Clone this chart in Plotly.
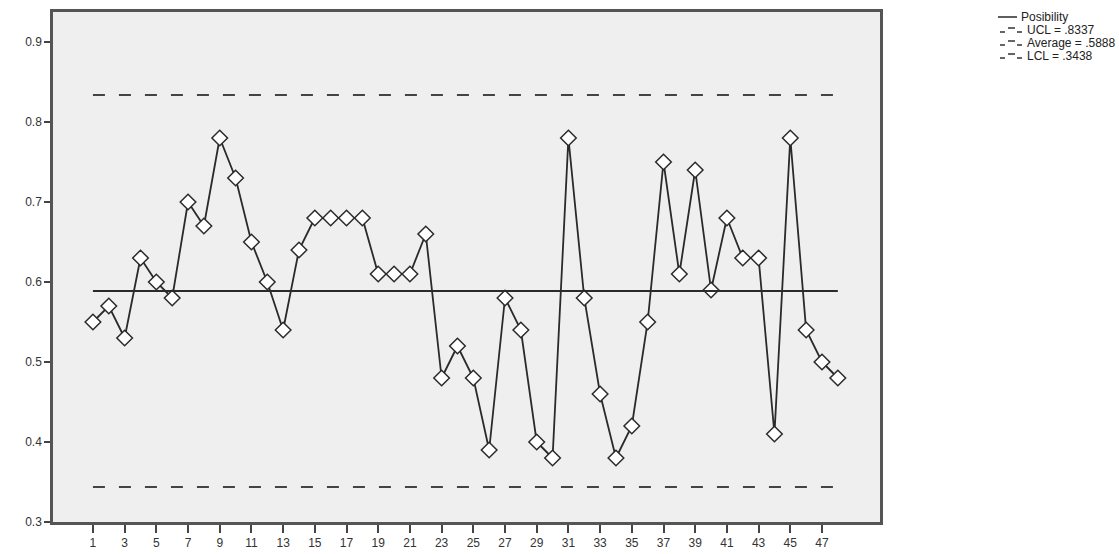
import plotly.graph_objects as go

samples = list(range(1, 49))
posibility = [0.55, 0.57, 0.53, 0.63, 0.60, 0.58, 0.70, 0.67, 0.78, 0.73,
              0.65, 0.60, 0.54, 0.64, 0.68, 0.68, 0.68, 0.68, 0.61, 0.61,
              0.61, 0.66, 0.48, 0.52, 0.48, 0.39, 0.58, 0.54, 0.40, 0.38,
              0.78, 0.58, 0.46, 0.38, 0.42, 0.55, 0.75, 0.61, 0.74, 0.59,
              0.68, 0.63, 0.63, 0.41, 0.78, 0.54, 0.50, 0.48]
ucl = 0.8337
average = 0.5888
lcl = 0.3438
x_ticks = list(range(1, 48, 2))
y_ticks = [0.3, 0.4, 0.5, 0.6, 0.7, 0.8, 0.9]
legend_labels = ["Posibility", "UCL = .8337", "Average = .5888", "LCL = .3438"]

line_col = "#2a2a2a"
dash_style = "12px,14px"
fig = go.Figure()
fig.add_trace(go.Scatter(
    x=samples, y=posibility, mode="lines+markers", name=legend_labels[0],
    line=dict(color=line_col, width=1.8),
    marker=dict(symbol="diamond", size=12, color="white",
                line=dict(color=line_col, width=1.5)),
))
fig.add_trace(go.Scatter(
    x=[samples[0], samples[-1]], y=[ucl, ucl], mode="lines",
    name=legend_labels[1], line=dict(color="#444", width=2, dash=dash_style),
))
fig.add_trace(go.Scatter(
    x=[samples[0], samples[-1]], y=[average, average], mode="lines",
    name=legend_labels[2], line=dict(color=line_col, width=2),
))
fig.add_trace(go.Scatter(
    x=[samples[0], samples[-1]], y=[lcl, lcl], mode="lines",
    name=legend_labels[3], line=dict(color="#444", width=2, dash=dash_style),
))

# Manual legend (SPSS style, tight rows) in paper coordinates
W, H = 1119, 554
plot_left, plot_right, plot_top, plot_bottom = 53, 880, 12, 522


def px(page_x):
    return (page_x - plot_left) / (plot_right - plot_left)


def py(page_y):
    return (plot_bottom - page_y) / (plot_bottom - plot_top)


rows_y = [17, 30, 43, 56]
text_x = [1019, 1025, 1025, 1025]
annotations = []
shapes = []
for i, (lab, ry, tx) in enumerate(zip(legend_labels, rows_y, text_x)):
    annotations.append(dict(
        x=px(tx), y=py(ry), xref="paper", yref="paper", text=lab,
        showarrow=False, xanchor="left", yanchor="middle",
        font=dict(size=12, color="#222", family="Liberation Sans, Arial, sans-serif"),
    ))
    if i == 0:
        shapes.append(dict(type="line", xref="paper", yref="paper",
                           x0=px(998), x1=px(1017), y0=py(ry), y1=py(ry),
                           line=dict(color=line_col, width=1.5)))
    else:
        # "-‾-" style symbol: short dash, raised dash, short dash
        shapes.append(dict(type="line", xref="paper", yref="paper",
                           x0=px(1000), x1=px(1005), y0=py(ry + 2), y1=py(ry + 2),
                           line=dict(color="#333", width=1.5)))
        shapes.append(dict(type="line", xref="paper", yref="paper",
                           x0=px(1008), x1=px(1015), y0=py(ry - 2), y1=py(ry - 2),
                           line=dict(color="#333", width=1.5)))
        shapes.append(dict(type="line", xref="paper", yref="paper",
                           x0=px(1017), x1=px(1022), y0=py(ry + 2), y1=py(ry + 2),
                           line=dict(color="#333", width=1.5)))

fig.update_layout(
    width=W, height=H,
    margin=dict(l=plot_left, r=W - plot_right, t=plot_top, b=H - plot_bottom,
                autoexpand=False),
    paper_bgcolor="white", plot_bgcolor="#efefef",
    font=dict(family="Liberation Sans, Arial, sans-serif", size=12, color="#333"),
    showlegend=False,
    annotations=annotations,
    shapes=shapes,
    xaxis=dict(range=[-1.52, 50.66], tickvals=x_ticks, ticks="outside",
               ticklen=8, tickwidth=2, tickcolor="#444", automargin=False,
               showgrid=False, zeroline=False, showline=True, mirror=True,
               linecolor="#555", linewidth=2.5, tickfont=dict(size=12, color="#333")),
    yaxis=dict(range=[0.3, 0.9375], tickvals=y_ticks, automargin=False,
               ticktext=[f"{v:.1f}" for v in y_ticks], ticks="outside",
               ticklen=6, tickwidth=2, tickcolor="#444",
               showgrid=False, zeroline=False, showline=True, mirror=True,
               linecolor="#555", linewidth=2.5, tickfont=dict(size=12, color="#333")),
)
fig.write_html(
    "out.html",
    config={"displayModeBar": False},
    post_script=("document.body.style.margin='0';"
                 "document.body.style.overflow='hidden';"
                 "document.documentElement.style.overflow='hidden';"),
)
